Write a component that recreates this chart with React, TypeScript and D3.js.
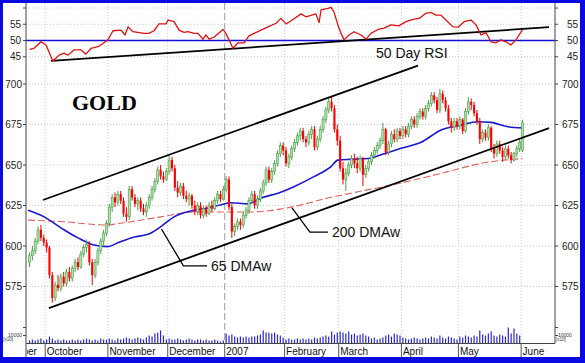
import React from "react";
import * as d3 from "d3";

type OHLC = [number, number, number, number];
type Pt = [number, number];

// Daily candles [open, high, low, close], Sep 22 2006 .. Jun 1 2007 (trading-day index)
const candles: OHLC[] = [
  [590, 596, 587, 594], [594, 600, 591, 597], [597, 605, 595, 603], [603, 612, 601, 610], [610, 613, 603, 605], [605, 607, 600, 602],
  // Oct
  [602, 604, 596, 599], [599, 600, 580, 582], [582, 584, 565, 568], [568, 578, 566, 576], [576, 582, 572, 574], [574, 583, 572, 581],
  [581, 584, 575, 577], [577, 586, 575, 584], [584, 587, 578, 580], [580, 588, 578, 586], [586, 592, 584, 590], [590, 593, 585, 587],
  [587, 597, 586, 595], [595, 601, 593, 599], [599, 604, 596, 601], [601, 603, 588, 590], [590, 592, 576, 582], [582, 592, 580, 590],
  [590, 599, 588, 597], [597, 605, 595, 603], [603, 610, 600, 608], [608, 616, 606, 614],
  // Nov
  [614, 626, 612, 624], [624, 632, 621, 630], [630, 633, 624, 627], [627, 634, 625, 632], [632, 634, 626, 628], [628, 630, 618, 620],
  [620, 624, 615, 618], [618, 637, 616, 635], [635, 637, 628, 630], [630, 632, 624, 626], [626, 630, 622, 628], [628, 630, 621, 623],
  [623, 626, 619, 621], [621, 627, 618, 625], [625, 632, 623, 630], [630, 637, 628, 635], [635, 642, 633, 640], [640, 649, 638, 647],
  [647, 650, 641, 643], [643, 646, 639, 641], [641, 648, 640, 646],
  // Dec
  [646, 656, 644, 653], [653, 655, 646, 648], [648, 650, 634, 636], [636, 640, 630, 633], [633, 639, 631, 637], [637, 639, 629, 631],
  [631, 634, 627, 629], [629, 633, 625, 631], [631, 632, 623, 625], [625, 628, 619, 621], [621, 627, 619, 625], [625, 627, 617, 619],
  [619, 625, 617, 623], [623, 625, 618, 620], [620, 627, 619, 625], [625, 628, 621, 623], [623, 630, 622, 628], [628, 634, 626, 632],
  [632, 634, 627, 629], [629, 637, 628, 635],
  // Jan
  [635, 643, 633, 641], [641, 643, 622, 624], [624, 626, 605, 609], [609, 614, 606, 612], [612, 617, 610, 615], [615, 617, 610, 613],
  [613, 621, 611, 619], [619, 624, 617, 622], [622, 630, 620, 628], [628, 634, 626, 632], [632, 634, 623, 625], [625, 631, 623, 629],
  [629, 636, 627, 634], [634, 641, 632, 639], [639, 649, 637, 647], [647, 649, 639, 641], [641, 648, 639, 646], [646, 653, 644, 651],
  [651, 659, 649, 657], [657, 664, 655, 662], [662, 664, 656, 659],
  // Feb
  [659, 661, 649, 651], [651, 657, 648, 655], [655, 662, 653, 660], [660, 666, 658, 664], [664, 670, 662, 668], [668, 673, 665, 671],
  [671, 673, 664, 666], [666, 668, 661, 664], [664, 671, 662, 669], [669, 674, 666, 672], [672, 674, 659, 661], [661, 668, 659, 666],
  [666, 674, 664, 672], [672, 680, 670, 678], [678, 686, 676, 684], [684, 691, 682, 689], [689, 692, 683, 685], [685, 687, 670, 672],
  [672, 675, 662, 665],
  // Mar
  [665, 668, 646, 648], [648, 652, 638, 641], [641, 648, 634, 645], [645, 652, 643, 650], [650, 656, 648, 654], [654, 657, 648, 651],
  [651, 655, 645, 648], [648, 656, 646, 654], [654, 655, 637, 644], [644, 650, 642, 648], [648, 654, 646, 652], [652, 658, 650, 656],
  [656, 661, 654, 659], [659, 664, 657, 662], [662, 667, 660, 665], [665, 676, 663, 672], [672, 673, 656, 658], [658, 665, 656, 663],
  [663, 671, 661, 669], [669, 672, 664, 666], [666, 673, 664, 671], [671, 673, 666, 668],
  // Apr
  [668, 674, 666, 672], [672, 674, 667, 669], [669, 676, 667, 674], [674, 680, 672, 678], [678, 680, 673, 675], [675, 682, 673, 680],
  [680, 685, 678, 683], [683, 685, 678, 680], [680, 687, 678, 685], [685, 690, 683, 688], [688, 695, 686, 693], [693, 695, 688, 690],
  [690, 692, 682, 684], [684, 697, 682, 694], [694, 696, 688, 690], [690, 692, 683, 685], [685, 687, 675, 677], [677, 679, 670, 673],
  [673, 679, 671, 677], [677, 679, 672, 674],
  // May
  [674, 680, 672, 678], [678, 679, 669, 671], [671, 685, 670, 683], [683, 692, 681, 689], [689, 691, 684, 687], [687, 689, 680, 682],
  [682, 684, 675, 677], [677, 679, 663, 666], [666, 672, 664, 670], [670, 672, 665, 667], [667, 675, 665, 673], [673, 674, 658, 660],
  [660, 663, 654, 657], [657, 665, 655, 663], [663, 665, 657, 659], [659, 661, 652, 655], [655, 662, 653, 660], [660, 662, 654, 656],
  [656, 658, 651, 653], [653, 658, 652, 657], [657, 662, 655, 660], [660, 666, 658, 664],
  // Jun 1
  [659, 678, 658, 676],
];

const volume: number[] = [
  3800, 5000, 3700, 4900, 6200, 3600,
  5000, 8700, 6200, 3800, 5000, 3700, 5000, 3800, 3700, 5100, 3900, 4900, 3600, 5000, 6200, 5000, 3800, 5000, 3700, 6300, 5000, 4800,
  6200, 5000, 3800, 6300, 5000, 6200, 7500, 6200, 5000, 6300, 7500, 6200, 5000, 7500, 10000, 8700, 12500, 13700, 16200, 10000, 5000,
  6200, 5000, 5000, 6200, 5000, 3800, 5000, 6200, 5000, 3800, 5000, 5000, 3700, 5000, 3800, 3700, 5000, 3600, 2500, 3800,
  12500, 10000, 11200, 8700, 7500, 8700, 7500, 8700, 7500, 8700, 8700, 10000, 11200, 16200, 13700, 13700, 12500, 13700, 11200, 10000, 7500,
  5000, 6200, 5000, 5000, 6200, 5000, 6200, 5000, 6200, 5000, 7500, 6200, 7500, 8700, 10000, 8700, 15000, 11200, 13700,
  15000, 13700, 12500, 15000, 11200, 12500, 10000, 11200, 12500, 10000, 8700, 6200, 7500, 5000, 6200, 7500, 10000, 11200, 8700, 12500, 11200, 10000,
  7500, 6200, 5000, 6200, 7500, 6200, 5000, 6200, 7500, 6200, 8700, 7500, 6200, 10000, 7500, 6200, 8700, 7500, 6200, 5000,
  8700, 7500, 10000, 8700, 7500, 10000, 8700, 16200, 11200, 10000, 12500, 15000, 10000, 8700, 11200, 10000, 8700, 20000, 12500, 18700, 12500, 10000,
  0,
];

// 65-day weighted moving average [dayIndex, price]
const ma65: Pt[] = [
  [-0.5, 622], [5.1, 618], [12.1, 610], [17, 605], [22.6, 600.6], [27.5, 599.6], [31, 602], [35.6, 605], [42.6, 608],
  [46.1, 612], [50.7, 618], [57.7, 622], [62.6, 623.5], [67.2, 625.5], [70.7, 626.7], [76.7, 626], [81.2, 629.6],
  [87.2, 632.6], [92.8, 636.6], [99.8, 642.8], [105.8, 649], [108.2, 653], [112.8, 653.5], [118.8, 654], [124.4, 657],
  [130.4, 660.3], [137.4, 664], [144.4, 671.6], [151.4, 674.7], [157.4, 676.7], [161.9, 676.3], [167.9, 673.6], [173, 672.8],
];

// 200-day weighted moving average
const ma200: Pt[] = [
  [-0.5, 616], [12.1, 615], [26.1, 613], [35.6, 615], [46.1, 618], [57.7, 621], [67.2, 621], [77.7, 621], [91.8, 624],
  [104.7, 629.6], [115.3, 633.5], [123.3, 636.3], [134.9, 640.7], [146.8, 645.9], [158.4, 651], [173, 654],
];

// 50-day RSI
const rsi: Pt[] = [
  [0, 47.3], [1.6, 47.6], [4, 49.6], [5.8, 48.6], [8.2, 43.7], [10.4, 45.5], [12.1, 46.1], [13.5, 45.5], [15.6, 47.1],
  [18.1, 47.1], [19.8, 45.8], [21.6, 47.6], [24, 48.1], [25.8, 49.1], [27.5, 50.2], [29.3, 53], [32.1, 53.2], [33.5, 51.7],
  [34.6, 54.2], [36.3, 52.7], [40.2, 52.2], [41.9, 52.2], [43.7, 53], [45.4, 55.1], [47.9, 55.1], [48.6, 56.3], [50.7, 55.8],
  [52.5, 53.2], [54.2, 52.5], [55.6, 52.7], [57.7, 52.2], [59.1, 52.2], [60.9, 50.4], [61.9, 51.7], [63, 50.4], [64.7, 51],
  [67.9, 53.4], [68.9, 52.2], [71.4, 47.6], [73.2, 49.3], [75.3, 49.3], [77, 51.4], [78.8, 52.2], [81.2, 53.2], [83.7, 54.2],
  [86.5, 55.3], [88.2, 56.8], [90, 55.1], [91.8, 56.1], [95.3, 58.2], [97, 57.3], [100.5, 58.2], [101.6, 55.5], [102.3, 59.4],
  [104.7, 59.9], [105.8, 60.2], [106.8, 58.9], [108.2, 54.8], [109.3, 52.2], [110.4, 50.2], [112.1, 51.7], [113.9, 52.7],
  [116.3, 51.7], [118.1, 50.4], [119.8, 52.2], [122.3, 53.4], [124.4, 53.8], [126.8, 54.8], [129.6, 54.5], [132.1, 55.8],
  [134.6, 56.5], [136.7, 56.8], [139.1, 58.4], [140.9, 58.6], [142.6, 57.8], [144.4, 57.8], [146.1, 56.3], [148.6, 54.2],
  [150.4, 54.1], [152.5, 55.8], [154.9, 56.3], [156.7, 54.8], [158.4, 51.7], [160.2, 52.4], [161.9, 49.6], [163.7, 49.3],
  [165.4, 50.2], [167.2, 49.6], [168.9, 48.6], [170.7, 50.2], [172.5, 52.7], [173, 53.2],
];

// Trend lines
const channelUpper: Pt[] = [[4.7, 628.4], [136.3, 711.4]];
const channelLower: Pt[] = [[6.8, 561.7], [182.3, 672.8]];
const rsiTrend: Pt[] = [[7.5, 43.7], [182.3, 54.1]];

// Leader lines for the labels
const leader65: Pt[] = [[46.3, 610.5], [54, 587.7], [62.3, 587.7]];
const leader200: Pt[] = [[92.1, 623.5], [98.4, 608.6], [104.7, 608.6]];

// Month boundaries (index of first trading day)
const months: { label: string; idx: number; year?: boolean }[] = [
  { label: "September", idx: -14.6 },
  { label: "October", idx: 6 },
  { label: "November", idx: 28 },
  { label: "December", idx: 49 },
  { label: "2007", idx: 69, year: true },
  { label: "February", idx: 90 },
  { label: "March", idx: 109 },
  { label: "April", idx: 131 },
  { label: "May", idx: 151 },
  { label: "June", idx: 173 },
];

const priceTicks = [575, 600, 625, 650, 675, 700];
const rsiTicks = [45, 50, 55];
const rsiGrid = [45, 55, 60];

const FONT = "'Liberation Sans', Arial, Helvetica, sans-serif";

export default function App() {
  const W = 585;
  const H = 363;
  const L = 26;
  const R = 555;
  const TOP = 3;
  const BASE = 343.5;

  const x = d3.scaleLinear().domain([-1.23, 184.39]).range([L, R]);
  const yP = d3.scaleLinear().domain([575, 700]).range([286.5, 84]);
  const yR = d3.scaleLinear().domain([45, 55]).range([56.75, 24.25]);
  const yV = d3.scaleLinear().domain([0, 10000]).range([BASE, 335.5]);

  const lineP = d3.line<Pt>().x((d) => x(d[0])).y((d) => yP(d[1]));
  const lineMA = d3.line<Pt>().x((d) => x(d[0])).y((d) => yP(d[1])).curve(d3.curveMonotoneX);
  const lineR = d3.line<Pt>().x((d) => x(d[0])).y((d) => yR(d[1]));

  const bw = 2.1;

  return (
    <svg
      width={W}
      height={H}
      style={{ position: "absolute", left: 0, top: 0, display: "block" }}
      fontFamily={FONT}
    >
      <defs>
        <clipPath id="lblclip">
          <rect x={L + 1} y={BASE} width={R - L} height={20} />
        </clipPath>
      </defs>
      <rect x={0} y={0} width={W} height={H} fill="#0a0ae0" />
      <rect x={3} y={3} width={577} height={354} fill="#ffffff" />

      {/* horizontal grid */}
      {priceTicks.map((t) => (
        <line key={"gp" + t} x1={L} x2={R} y1={yP(t)} y2={yP(t)} stroke="#c8c8c8" strokeWidth={1} strokeDasharray="1,2" />
      ))}
      {rsiGrid.map((t) => (
        <line key={"gr" + t} x1={L} x2={R} y1={yR(t)} y2={yR(t)} stroke="#c8c8c8" strokeWidth={1} strokeDasharray="1,2" />
      ))}

      {/* vertical grid */}
      {months.filter((m) => m.idx > 0).map((m) => (
        <line
          key={"gv" + m.label}
          x1={x(m.idx - 0.5)}
          x2={x(m.idx - 0.5)}
          y1={TOP}
          y2={BASE}
          stroke={m.year ? "#9a9a9a" : "#c8c8c8"}
          strokeWidth={1}
          strokeDasharray={m.year ? "7,3" : "1,2"}
        />
      ))}

      {/* volume */}
      {volume.map((v, i) =>
        v > 0 ? (
          <line key={"v" + i} x1={x(i)} x2={x(i)} y1={yV(0)} y2={yV(v)} stroke="#2828c8" strokeWidth={1.2} />
        ) : null
      )}

      {/* RSI */}
      <line x1={L} x2={R} y1={yR(50)} y2={yR(50)} stroke="#1010d8" strokeWidth={1.4} />
      <path d={lineR(rsiTrend) || ""} fill="none" stroke="#000" strokeWidth={1.8} />
      <path d={lineR(rsi) || ""} fill="none" stroke="#e01010" strokeWidth={1.3} strokeLinejoin="round" />

      {/* moving averages */}
      <path d={lineMA(ma200) || ""} fill="none" stroke="#e06060" strokeWidth={1.1} strokeDasharray="7,3" />
      <path d={lineMA(ma65) || ""} fill="none" stroke="#1818d0" strokeWidth={1.6} />

      {/* candles */}
      {candles.map((c, i) => {
        const [o, h, l, cl] = c;
        const up = cl >= o;
        const cx = x(i);
        const top = yP(Math.max(o, cl));
        const bot = yP(Math.min(o, cl));
        const col = up ? "#4a9e4a" : "#ee0000";
        return (
          <g key={"c" + i}>
            <line x1={cx} x2={cx} y1={yP(h)} y2={yP(l)} stroke={col} strokeWidth={1} />
            <rect
              x={cx - bw / 2}
              y={top}
              width={bw}
              height={Math.max(1, bot - top)}
              fill={up ? "#b4e0ac" : "#ff0000"}
              stroke={up ? "#4a9e4a" : "none"}
              strokeWidth={up ? 0.6 : 0}
            />
          </g>
        );
      })}

      {/* trend channel */}
      <path d={lineP(channelUpper) || ""} fill="none" stroke="#000" strokeWidth={1.8} />
      <path d={lineP(channelLower) || ""} fill="none" stroke="#000" strokeWidth={1.8} />

      {/* leaders */}
      <path d={lineP(leader65) || ""} fill="none" stroke="#000" strokeWidth={1.3} />
      <path d={lineP(leader200) || ""} fill="none" stroke="#000" strokeWidth={1.3} />

      {/* annotations */}
      <text x={72} y={110} fontFamily="'Liberation Serif', 'Times New Roman', serif" fontWeight="bold" fontSize={22} fill="#000">
        GOLD
      </text>
      <text x={376} y={58} fontSize={14} fill="#111">50 Day RSI</text>
      <text x={x(leader200[2][0]) + 4} y={yP(leader200[2][1]) + 5} fontSize={14} fill="#111">200 DMAw</text>
      <text x={x(leader65[2][0]) + 4} y={yP(leader65[2][1]) + 5} fontSize={14} fill="#111">65 DMAw</text>

      {/* axes */}
      <line x1={L} x2={L} y1={TOP} y2={357} stroke="#444" strokeWidth={1} />
      <line x1={R} x2={R} y1={TOP} y2={BASE} stroke="#444" strokeWidth={1} />
      <line x1={L} x2={R} y1={BASE} y2={BASE} stroke="#444" strokeWidth={1} />

      {priceTicks.map((t) => (
        <g key={"tp" + t}>
          <line x1={L - 3} x2={L} y1={yP(t)} y2={yP(t)} stroke="#444" />
          <line x1={R} x2={R + 3} y1={yP(t)} y2={yP(t)} stroke="#444" />
          <text x={L - 4} y={yP(t)} dy="0.35em" textAnchor="end" fontSize={10} fill="#222">{t}</text>
          <text x={R + 7} y={yP(t)} dy="0.35em" textAnchor="start" fontSize={10} fill="#222">{t}</text>
        </g>
      ))}
      {rsiTicks.map((t) => (
        <g key={"tr" + t}>
          <line x1={L - 3} x2={L} y1={yR(t)} y2={yR(t)} stroke="#444" />
          <line x1={R} x2={R + 3} y1={yR(t)} y2={yR(t)} stroke="#444" />
          <text x={L - 5} y={yR(t)} dy="0.35em" textAnchor="end" fontSize={10} fill="#222">{t}</text>
          <text x={R + 12} y={yR(t)} dy="0.35em" textAnchor="start" fontSize={10} fill="#222">{t}</text>
        </g>
      ))}
      <line x1={L - 3} x2={L} y1={yR(60)} y2={yR(60)} stroke="#444" />
      <line x1={R} x2={R + 3} y1={yR(60)} y2={yR(60)} stroke="#444" />
      {[10000, 20000].map((t) => (
        <g key={"tv" + t}>
          <line x1={L - 3} x2={L} y1={yV(t)} y2={yV(t)} stroke="#444" />
          <line x1={R} x2={R + 3} y1={yV(t)} y2={yV(t)} stroke="#444" />
        </g>
      ))}
      <text x={L - 4} y={yV(10000) + 1} textAnchor="end" fontSize={5} fill="#333">10000</text>
      <text x={L - 13} y={yV(10000) + 5} textAnchor="end" fontSize={4.5} fill="#333">[x10]</text>
      <text x={R + 3} y={yV(10000) + 1} textAnchor="start" fontSize={5} fill="#333">10000</text>
      <text x={R + 1} y={yV(10000) + 5} textAnchor="start" fontSize={4.5} fill="#333">[x10]</text>

      {/* month separators and labels */}
      {months.filter((m) => m.idx > 0).map((m) => (
        <line key={"ms" + m.label} x1={x(m.idx - 0.5)} x2={x(m.idx - 0.5)} y1={BASE} y2={357} stroke="#555" strokeWidth={1} />
      ))}
      <g clipPath="url(#lblclip)">
        {months.map((m) => (
          <text key={"ml" + m.label} x={x(m.idx - 0.5) + 1.5} y={355} fontSize={10} fill="#111">
            {m.label}
          </text>
        ))}
      </g>
    </svg>
  );
}
